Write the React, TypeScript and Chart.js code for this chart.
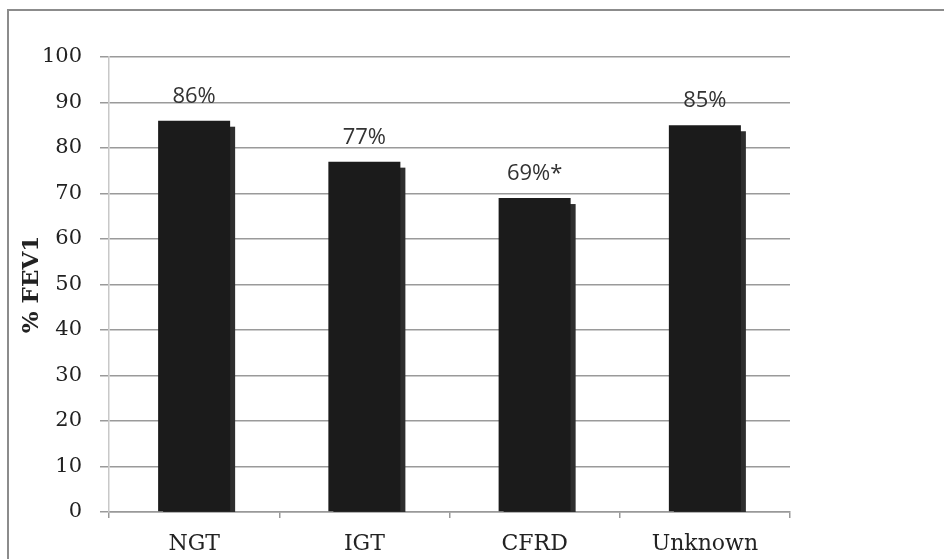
import React, { useEffect, useRef } from "react";
import { Chart, registerables } from "chart.js";

Chart.register(...registerables);

const categories = ["NGT", "IGT", "CFRD", "Unknown"];
const fev1Values = [86, 77, 69, 85];
const valueLabels = ["86%", "77%", "69%*", "85%"];
const yTitle = "% FEV1";

const barLabelPlugin = {
  id: "barLabels",
  beforeDatasetsDraw(chart: any) {
    const ctx = chart.ctx;
    const meta = chart.getDatasetMeta(0);
    const base = chart.scales.y.getPixelForValue(0);
    ctx.save();
    ctx.fillStyle = "#2e2e2e";
    meta.data.forEach((bar: any) => {
      const w = bar.width;
      ctx.fillRect(bar.x - w / 2 + 5, bar.y + 6, w, base - bar.y - 6);
    });
    ctx.restore();
  },
  afterDatasetsDraw(chart: any) {
    const ctx = chart.ctx;
    const meta = chart.getDatasetMeta(0);
    ctx.save();
    ctx.font = '22px "Open Sans"';
    ctx.fillStyle = "#333";
    ctx.textAlign = "center";
    ctx.textBaseline = "alphabetic";
    meta.data.forEach((bar: any, i: number) => {
      ctx.fillText(valueLabels[i], bar.x, bar.y - 18);
    });
    ctx.restore();
  },
};

export default function App() {
  const ref = useRef<HTMLCanvasElement | null>(null);

  useEffect(() => {
    if (!ref.current) return;
    const chart = new Chart(ref.current, {
      type: "bar",
      data: {
        labels: categories,
        datasets: [
          {
            data: fev1Values,
            backgroundColor: "#1b1b1b",
            categoryPercentage: 1,
            barPercentage: 0.423,
          },
        ],
      },
      options: {
        responsive: false,
        animation: false,
        events: [],
        layout: { padding: { left: 0, top: 57, right: 154, bottom: 0 } },
        plugins: {
          legend: { display: false },
          tooltip: { enabled: false },
        },
        scales: {
          x: {
            afterFit: (s: any) => {
              s.height = 47;
            },
            grid: {
              drawOnChartArea: false,
              drawTicks: true,
              tickLength: 6,
              color: "#999",
              lineWidth: 1.5,
            },
            border: { color: "#999", width: 1.5 },
            ticks: {
              padding: 13,
              color: "#222",
              font: { family: "DejaVu Serif", size: 22 },
            },
          },
          y: {
            min: 0,
            max: 100,
            afterFit: (s: any) => {
              s.width = 109;
            },
            ticks: {
              stepSize: 10,
              padding: 18,
              color: "#222",
              font: { family: "DejaVu Serif", size: 21 },
            },
            grid: {
              color: "#9a9a9a",
              lineWidth: 1.5,
              tickLength: 9,
            },
            border: { color: "#c8c8c8", width: 1.5 },
            title: {
              display: true,
              text: yTitle,
              color: "#222",
              padding: { top: 18, bottom: 0 },
              font: { family: "DejaVu Serif", size: 23, weight: "bold" },
            },
          },
        },
      },
      plugins: [barLabelPlugin],
    });
    return () => chart.destroy();
  }, []);

  return (
    <div
      style={{
        position: "fixed",
        left: 0,
        top: 0,
        width: 944,
        height: 559,
        background: "#fff",
        overflow: "hidden",
      }}
    >
      <div
        style={{
          position: "absolute",
          left: 7,
          top: 9,
          right: -4,
          bottom: -4,
          borderTop: "2px solid #8c8c8c",
          borderLeft: "2px solid #8c8c8c",
        }}
      />
      <canvas
        ref={ref}
        width={944}
        height={559}
        style={{ position: "absolute", left: 0, top: 0 }}
      />
    </div>
  );
}
